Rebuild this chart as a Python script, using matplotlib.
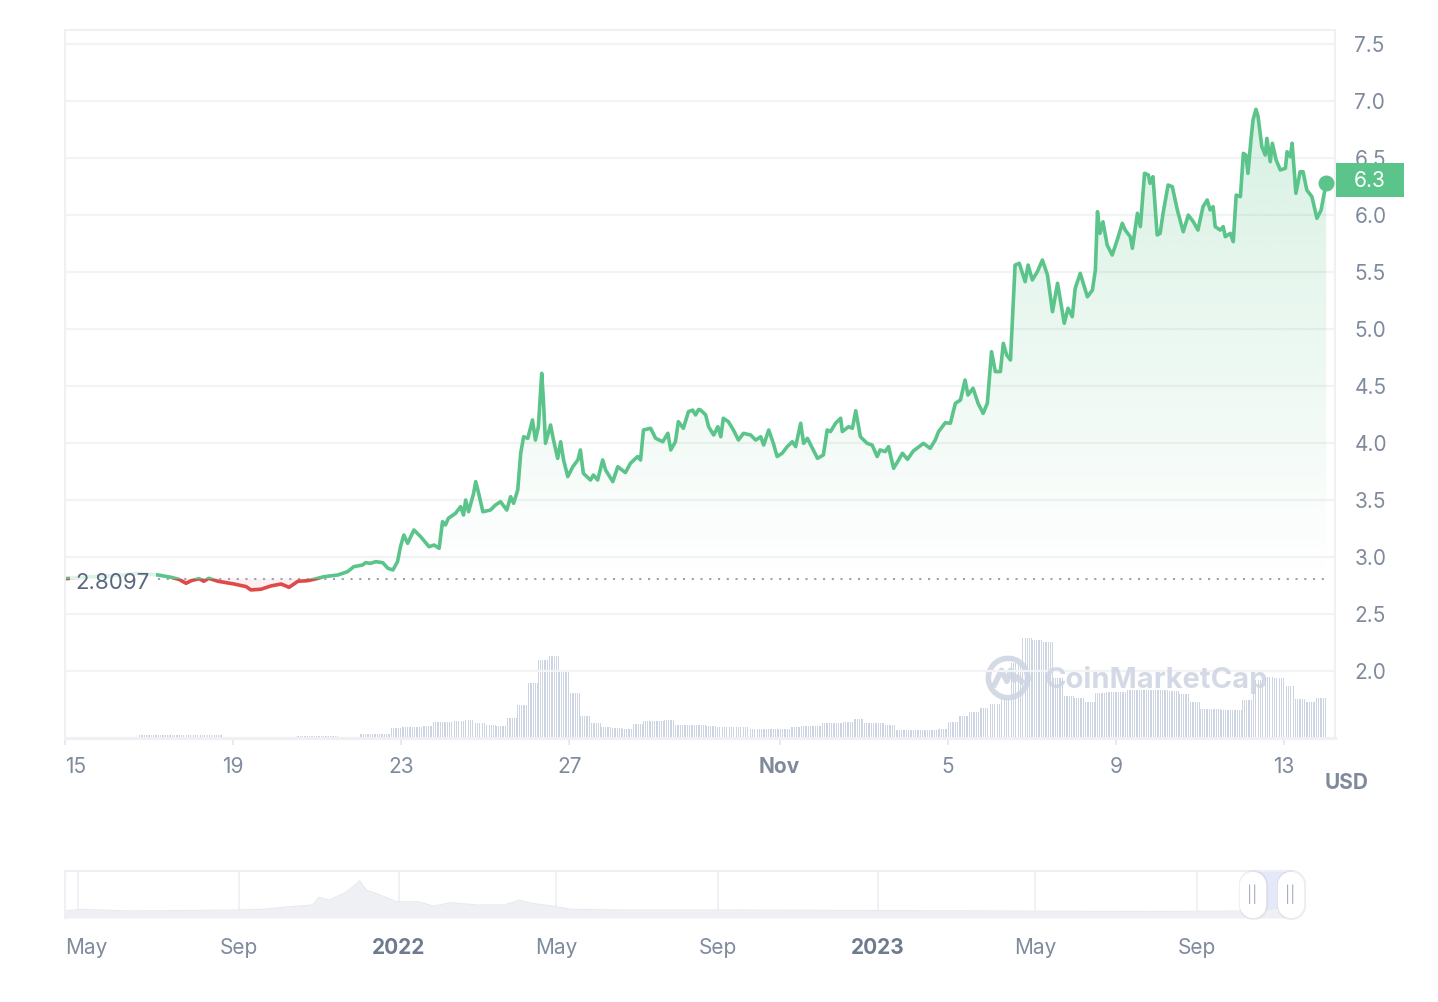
import numpy as np
import matplotlib
matplotlib.use('Agg')
import matplotlib.pyplot as plt
from matplotlib.patches import Rectangle
from datetime import date

plt.rcParams['font.family'] = ['Inter', 'DejaVu Sans']

# price history, x = days since 15 Oct 2023 00:00
days = [0.02, 0.56, 1.15, 1.75, 2.21, 2.52, 2.71, 2.88, 3.00, 3.19, 3.30, 3.42, 3.64, 4.02,
        4.31, 4.42, 4.66, 4.90, 5.14, 5.33, 5.54, 5.77, 5.92, 6.16, 6.49, 6.72, 6.87, 7.08,
        7.15, 7.27, 7.39, 7.56, 7.68, 7.80, 7.91, 7.98, 8.06, 8.15, 8.30, 8.46, 8.66, 8.78,
        8.90, 8.98, 9.05, 9.12, 9.29, 9.41, 9.48, 9.53, 9.60, 9.72, 9.77, 9.84, 9.94, 10.12,
        10.24, 10.36, 10.51, 10.60, 10.67, 10.77, 10.84, 10.91, 11.01, 11.12, 11.19, 11.26,
        11.34, 11.38, 11.43, 11.55, 11.62, 11.72, 11.79, 11.86, 11.96, 12.08, 12.20, 12.26,
        12.33, 12.50, 12.57, 12.67, 12.79, 12.86, 13.03, 13.15, 13.33, 13.45, 13.62, 13.69,
        13.76, 13.93, 14.05, 14.22, 14.34, 14.41, 14.52, 14.59, 14.71, 14.83, 14.93, 15.00,
        15.07, 15.12, 15.24, 15.31, 15.43, 15.53, 15.60, 15.66, 15.78, 15.90, 16.02, 16.14,
        16.31, 16.43, 16.55, 16.62, 16.74, 16.85, 16.94, 17.06, 17.18, 17.30, 17.38, 17.50,
        17.57, 17.66, 17.78, 17.90, 18.04, 18.13, 18.21, 18.33, 18.45, 18.49, 18.64, 18.73,
        18.81, 18.92, 19.08, 19.20, 19.32, 19.39, 19.51, 19.59, 19.71, 19.83, 19.92, 20.04,
        20.18, 20.42, 20.58, 20.70, 20.78, 20.94, 21.06, 21.18, 21.30, 21.41, 21.48, 21.60,
        21.72, 21.84, 21.94, 22.04, 22.13, 22.25, 22.32, 22.40, 22.49, 22.60, 22.70, 22.84,
        22.91, 23.01, 23.13, 23.25, 23.37, 23.49, 23.61, 23.67, 23.77, 23.86, 23.96, 24.03,
        24.15, 24.32, 24.44, 24.51, 24.56, 24.62, 24.69, 24.79, 24.91, 25.03, 25.15, 25.22,
        25.34, 25.39, 25.51, 25.58, 25.68, 25.77, 25.81, 25.88, 25.98, 26.05, 26.12, 26.24,
        26.34, 26.46, 26.60, 26.72, 26.84, 26.95, 27.07, 27.17, 27.24, 27.31, 27.36, 27.48,
        27.55, 27.60, 27.72, 27.79, 27.86, 27.96, 28.03, 28.09, 28.14, 28.21, 28.26, 28.33,
        28.38, 28.47, 28.55, 28.59, 28.67, 28.72, 28.81, 28.91, 29.03, 29.07, 29.15, 29.19,
        29.28, 29.38, 29.45, 29.54, 29.66, 29.78, 29.88, 30.00]
price = [2.810, 2.825, 2.835, 2.855, 2.842, 2.822, 2.804, 2.769, 2.792, 2.810, 2.787, 2.813,
         2.787, 2.763, 2.740, 2.711, 2.717, 2.746, 2.763, 2.734, 2.787, 2.792, 2.804, 2.827,
         2.842, 2.871, 2.915, 2.930, 2.950, 2.944, 2.959, 2.950, 2.901, 2.886, 2.959, 3.09,
         3.193, 3.12, 3.237, 3.178, 3.09, 3.105, 3.076, 3.31, 3.281, 3.34, 3.383, 3.442,
         3.368, 3.50, 3.397, 3.559, 3.661, 3.559, 3.397, 3.412, 3.456, 3.485, 3.412, 3.529,
         3.471, 3.588, 3.91, 4.055, 4.041, 4.202, 4.026, 4.143, 4.611, 4.377, 3.997, 4.158,
         4.026, 3.865, 4.011, 3.851, 3.705, 3.792, 3.851, 3.939, 3.734, 3.675, 3.719, 3.675,
         3.851, 3.763, 3.661, 3.792, 3.74, 3.822, 3.881, 3.851, 4.114, 4.129, 4.041, 4.011,
         4.085, 3.939, 4.011, 4.187, 4.129, 4.275, 4.289, 4.246, 4.294, 4.289, 4.246, 4.143,
         4.07, 4.143, 4.055, 4.217, 4.187, 4.114, 4.026, 4.085, 4.07, 4.026, 4.055, 3.982,
         4.114, 3.997, 3.881, 3.91, 3.968, 4.011, 3.968, 4.173, 3.997, 4.041, 3.953, 3.865,
         3.895, 4.114, 4.10, 4.173, 4.217, 4.10, 4.143, 4.129, 4.283, 4.055, 3.997, 3.982,
         3.881, 3.939, 3.924, 3.968, 3.778, 3.851, 3.91, 3.857, 3.93, 3.997, 3.953, 4.026,
         4.10, 4.178, 4.173, 4.348, 4.377, 4.553, 4.421, 4.48, 4.348, 4.26, 4.348, 4.801,
         4.626, 4.626, 4.874, 4.772, 4.728, 5.561, 5.576, 5.415, 5.561, 5.43, 5.503, 5.605,
         5.474, 5.152, 5.401, 5.269, 5.05, 5.182, 5.108, 5.357, 5.488, 5.283, 5.342, 5.518,
         6.029, 5.839, 5.941, 5.737, 5.649, 5.781, 5.927, 5.868, 5.81, 5.708, 6.015, 5.898,
         6.366, 6.351, 6.278, 6.336, 5.825, 5.839, 6.015, 6.263, 6.248, 6.044, 5.853, 5.999,
         5.941, 5.868, 6.073, 6.132, 6.044, 6.073, 5.898, 5.868, 5.898, 5.81, 5.839, 5.766,
         6.175, 6.161, 6.541, 6.526, 6.366, 6.658, 6.833, 6.927, 6.863, 6.599, 6.526, 6.672,
         6.468, 6.629, 6.482, 6.395, 6.41, 6.555, 6.511, 6.629, 6.19, 6.38, 6.38, 6.219,
         6.161, 5.971, 6.044, 6.283]
base_price = 2.8097
last_label = '6.3'

# 24h volume (relative units), one value per 6 hours starting at day 0
volume_6h = [1, 1, 1, 1, 1, 1, 1, 3, 3, 3, 3, 3, 3, 3, 3, 1, 1, 1, 1, 1, 1, 1, 2, 2, 2, 2,
             1, 1, 4, 4, 4, 10, 11, 11, 12, 16, 16, 17, 18, 15, 13, 12, 20, 33, 55, 78, 82,
             68, 45, 22, 15, 11, 10, 9, 14, 17, 17, 18, 13, 13, 13, 12, 11, 11, 11, 9, 9, 9,
             9, 11, 12, 12, 15, 15, 16, 19, 15, 15, 13, 8, 8, 8, 8, 9, 16, 22, 26, 30, 34,
             40, 75, 100, 98, 96, 60, 42, 40, 36, 45, 46, 46, 48, 48, 48, 48, 47, 44, 36, 29,
             29, 28, 28, 38, 58, 61, 60, 52, 39, 36, 40]

x_ticks = [0, 4, 8, 12, 17, 21, 25, 29]
x_labels = ['15', '19', '23', '27', 'Nov', '5', '9', '13']
y_ticks = [2.0, 2.5, 3.0, 3.5, 4.0, 4.5, 5.0, 5.5, 6.0, 6.5, 7.0, 7.5]

# overview navigator (whole history)
nav_dates = ['2021-04-21', '2021-05-03', '2021-06-09', '2021-08-30', '2021-09-19', '2021-10-10',
             '2021-10-27', '2021-11-01', '2021-11-09', '2021-11-20', '2021-11-27', '2021-12-02',
             '2021-12-07', '2021-12-14', '2021-12-24', '2021-12-30', '2022-01-16', '2022-01-27',
             '2022-02-10', '2022-03-02', '2022-03-22', '2022-04-03', '2022-04-12', '2022-04-28',
             '2022-05-12', '2022-06-18', '2022-09-18', '2022-12-31', '2023-04-04', '2023-07-27',
             '2023-10-04', '2023-10-27', '2023-11-14']
nav_level = [7, 8.7, 7, 8, 8.7, 11.3, 13, 20.7, 18, 24.7, 31.3, 37.3, 28, 24.7, 19.7, 16.3,
             16.3, 12, 15.3, 13, 13, 18, 14.7, 12, 8.7, 8, 8, 7.5, 7, 6.5, 7, 9, 12]
nav_ticks = ['2021-05-01', '2021-09-01', '2022-01-01', '2022-05-01', '2022-09-01',
             '2023-01-01', '2023-05-01', '2023-09-01']
nav_labels = ['May', 'Sep', '2022', 'May', 'Sep', '2023', 'May', 'Sep']

GREEN = '#5bc48a'
RED = '#e0484a'
GREY_TXT = '#808a9d'
FRAME = '#eef0f4'


def nday(s):
    # days since 2022-01-01
    return date.fromisoformat(s).toordinal() - date(2022, 1, 1).toordinal()


fig = plt.figure(figsize=(14.38, 10.02), dpi=100)
W, H = 1438.0, 1002.0

# main axes: px 65..1335 x, 30..738 y
ax = fig.add_axes([65 / W, 1 - 738 / H, 1270 / W, 708 / H])
axv = ax.twinx()
ax.set_zorder(axv.get_zorder() + 1)
ax.patch.set_visible(False)

x = np.array(days)
y = np.array(price)
x0, x1 = 0.02, 30.21
y0, y1 = 1.412, 7.623

# volume bars (hourly)
vol = np.repeat(volume_6h, 6)
vx = (np.arange(len(vol)) + 0.5) / 24
axv.bar(vx, vol, width=0.55 / 24, color='#cdd4e2', linewidth=0)
axv.set_ylim(0, 708)
axv.set_yticks([])
for s in axv.spines.values():
    s.set_visible(False)

# gridlines
for t in y_ticks:
    ax.axhline(t, color='#f2f3f5', lw=1.6, zorder=0)

# gradient fill above the opening price
fill = ax.fill_between(x, y, base_price, where=y >= base_price, interpolate=True,
                       facecolor='none', edgecolor='none')
grad = np.zeros((256, 1, 4))
rgb = matplotlib.colors.to_rgb(GREEN)
grad[:, 0, 0], grad[:, 0, 1], grad[:, 0, 2] = rgb
grad[:, 0, 3] = np.linspace(0.0, 0.24, 256)
im = ax.imshow(grad, extent=[x0, x1, base_price, 7.0], origin='lower', aspect='auto',
               zorder=1, interpolation='bilinear')
for p in fill.get_paths():
    im.set_clip_path(p, transform=ax.transData)
ax.fill_between(x, y, base_price, where=y < base_price, interpolate=True,
                color=RED, alpha=0.08, lw=0, zorder=1)

# price line, green above and red below the opening price
up = ax.plot(x, y, color=GREEN, lw=2.6, zorder=3, solid_joinstyle='round')[0]
dn = ax.plot(x, y, color=RED, lw=2.6, zorder=3, solid_joinstyle='round')[0]
up.set_clip_path(Rectangle((x0, base_price), x1 - x0, 10, transform=ax.transData))
dn.set_clip_path(Rectangle((x0, base_price - 10), x1 - x0, 10, transform=ax.transData))
ax.plot(x[-1], y[-1], 'o', color=GREEN, ms=10.5, zorder=4)

# opening price dotted line + label
ax.plot([2.22, 30.1], [base_price, base_price], color='#9aa3b3', lw=1.5,
        linestyle=(0, (1, 3.2)), zorder=2)
ax.text(0.0085, base_price - 0.04, '2.8097', transform=ax.get_yaxis_transform(),
        ha='left', va='center', fontsize=16, color='#58667e', zorder=5,
        bbox=dict(facecolor='white', edgecolor='none', alpha=0.8, pad=4))

# last price tag
tr = matplotlib.transforms.blended_transform_factory(ax.transAxes, ax.transData)
tag_y = 6.307
ax.add_patch(Rectangle((1.0008, tag_y - 0.152), 0.0535, 0.304, transform=tr,
                       facecolor=GREEN, edgecolor='none', clip_on=False, zorder=6))
ax.text(1.0275, tag_y - 0.01, last_label, transform=tr, ha='center', va='center',
        fontsize=15, color='white', zorder=7, clip_on=False)

# axes cosmetics
ax.set_xlim(x0, x1)
ax.set_ylim(y0, y1)
axv.set_xlim(x0, x1)
ax.yaxis.tick_right()
ax.set_yticks(y_ticks)
ax.set_yticklabels(['%.1f' % t for t in y_ticks])
ax.tick_params(axis='y', length=0, pad=14, labelsize=15, labelcolor=GREY_TXT)
ax.set_xticks(x_ticks)
ax.set_xticklabels(x_labels)
ax.tick_params(axis='x', length=5, width=1.2, color='#e3e6eb', pad=9, labelsize=15,
               labelcolor=GREY_TXT)
for lab in ax.get_xticklabels():
    if lab.get_text() == 'Nov':
        lab.set_fontweight('bold')
    if lab.get_text() == '15':
        lab.set_horizontalalignment('left')
for s in ax.spines.values():
    s.set_color(FRAME)
    s.set_linewidth(1.5)
ax.spines['bottom'].set_linewidth(2.2)

fig.text(1347 / W, 1 - 783 / H, 'USD', ha='center', va='center', fontsize=15,
         fontweight='bold', color=GREY_TXT)

# watermark
ax.text(0.7717, 0.082, 'CoinMarketCap', transform=ax.transAxes, ha='left', va='center',
        fontsize=21, fontweight='bold', color='#cdd4e1', alpha=0.85, zorder=2)
lg = fig.add_axes([984 / W, 1 - 702 / H, 48 / W, 48 / H])
lg.set_xlim(-1.1, 1.1)
lg.set_ylim(-1.1, 1.1)
lg.axis('off')
t = np.linspace(0, 2 * np.pi, 100)
lg.plot(0.9 * np.cos(t), 0.9 * np.sin(t), color='#cdd4e1', lw=4, alpha=0.85)
lg.plot([-0.62, -0.3, -0.05, 0.12, 0.3, 0.42, 0.62], [-0.3, 0.35, -0.15, 0.35, -0.1, 0.05, -0.15],
        color='#cdd4e1', lw=4, alpha=0.85, solid_joinstyle='round')

# navigator
nav = fig.add_axes([65 / W, 1 - 918 / H, 1227 / W, 47 / H])
nx = np.array([nday(d) for d in nav_dates])
nav.fill_between(nx, 0, nav_level, color='#eef0f4', lw=0)
nav.plot(nx, nav_level, color='#e6e9ee', lw=0.8)
nav_x0, nav_x1 = -254.6, 680.6
nav.set_xlim(nav_x0, nav_x1)
nav.set_ylim(0, 47)
tick_days = [nday(d) for d in nav_ticks]
for td in tick_days:
    nav.axvline(td, color='#eef0f3', lw=1.3, zorder=0)
nav.axvspan(650, nav_x1, color='#e4e8f8', lw=0, zorder=0.5)
nav.set_yticks([])
nav.set_xticks([])
for i, (td, lab) in enumerate(zip(tick_days, nav_labels)):
    bold = lab.isdigit()
    if i == 0:
        tx, ha = nav_x0, 'left'
    else:
        tx, ha = td, 'center'
    nav.text(tx, -30, lab, ha=ha, va='center', fontsize=15,
             fontweight='bold' if bold else 'normal',
             color='#6f7a8e' if bold else GREY_TXT, clip_on=False)
for k, s in nav.spines.items():
    s.set_color(FRAME)
    s.set_linewidth(1.5)
nav.spines['right'].set_visible(False)
nav.spines['bottom'].set_visible(False)

# selection handles
for hx in [650.5, 679.5]:
    nav.plot([hx, hx], [13, 34], color='#c8ccd8', lw=21, alpha=0.35,
             solid_capstyle='round', clip_on=False, zorder=5)
    nav.plot([hx, hx], [13.5, 33.5], color='white', lw=19, solid_capstyle='round',
             clip_on=False, zorder=6)
    nav.text(hx, 23.5, '||', ha='center', va='center', fontsize=11, color='#a7aebd',
             zorder=7, clip_on=False)

fig.savefig('out.png', dpi=100, facecolor='white')
